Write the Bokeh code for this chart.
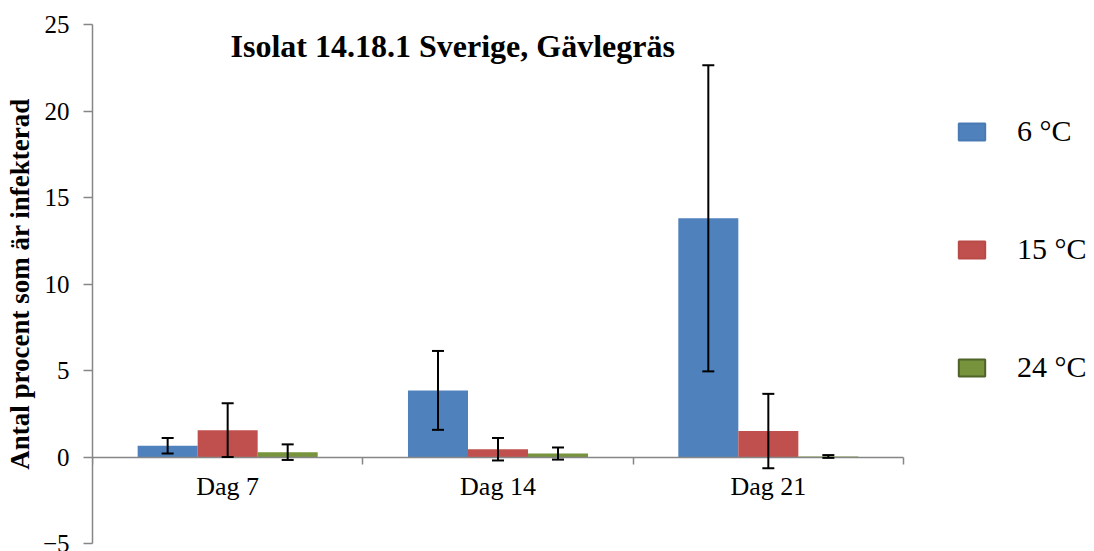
from bokeh.plotting import figure
from bokeh.models import (Range1d, LinearAxis, FixedTicker, Whisker,
                          ColumnDataSource, Legend, LegendItem, Label, TeeHead)
from bokeh.transform import dodge
from bokeh.embed import file_html
from bokeh.resources import INLINE

days = ["Dag 7", "Dag 14", "Dag 21"]
series = ["6 °C", "15 °C", "24 °C"]
v6 = [0.65, 3.85, 13.8]
e6 = [0.45, 2.28, 8.85]
v15 = [1.55, 0.45, 1.5]
e15 = [1.55, 0.65, 2.15]
v24 = [0.28, 0.2, 0.03]
e24 = [0.45, 0.35, 0.08]
colors = ["#4F81BD", "#C0504D", "#77933C"]
borders = ["#4A7AB3", "#B84A47", "#4F6228"]
yticks = [-5, 0, 5, 10, 15, 20, 25]

SERIF = "Liberation Serif"

# layout (pixels)
W, H = 1094, 551
LEFT, TOP, BOTTOM = 92, 24, 8
AXIS_PX = 811                      # visible length of the category axis
FRAME_PX = W - LEFT

n = len(days)
centers = [i + 0.5 for i in range(n)]
edges = list(range(n + 1))

p = figure(x_range=Range1d(0, n * FRAME_PX / AXIS_PX), y_range=Range1d(-5, 25),
           width=W, height=H, output_backend="svg", toolbar_location=None,
           min_border_left=LEFT, min_border_right=0, min_border_top=TOP, min_border_bottom=BOTTOM)
p.xaxis.visible = False
p.xgrid.visible = False
p.ygrid.visible = False
p.outline_line_color = None

# y axis
yax = p.yaxis[0]
yax.ticker = FixedTicker(ticks=yticks)
yax.axis_line_color = "#868686"
yax.axis_line_width = 1.5
yax.major_tick_line_color = "#868686"
yax.major_tick_line_width = 1.5
yax.major_tick_in = 0
yax.major_tick_out = 9
yax.minor_tick_line_color = None
yax.major_label_text_font = SERIF
yax.major_label_text_font_size = "25px"
yax.major_label_text_color = "#000000"
yax.major_label_standoff = 14
yax.axis_label = "Antal procent som är infekterad"
yax.axis_label_text_font = SERIF
yax.axis_label_text_font_style = "bold"
yax.axis_label_text_font_size = "27px"
yax.axis_label_text_color = "#000000"
yax.axis_label_standoff = 5

src = ColumnDataSource(dict(xc=centers, v6=v6, v15=v15, v24=v24,
                            lo6=[a - b for a, b in zip(v6, e6)], hi6=[a + b for a, b in zip(v6, e6)],
                            lo15=[a - b for a, b in zip(v15, e15)], hi15=[a + b for a, b in zip(v15, e15)],
                            lo24=[a - b for a, b in zip(v24, e24)], hi24=[a + b for a, b in zip(v24, e24)]))

w = 0.222
offsets = [-w, 0.0, w]
keys = ["6", "15", "24"]
for k, off, c in zip(keys, offsets, colors):
    p.vbar(x=dodge("xc", off), top="v" + k, bottom=0, width=w,
           source=src, fill_color=c, line_color=None)

# x axis line at y=0 with boundary ticks and centred labels
edge_ax = LinearAxis(ticker=FixedTicker(ticks=edges), bounds=(0, n),
                     major_label_overrides={e: "" for e in edges},
                     fixed_location=0, axis_line_color="#868686", major_tick_line_color="#868686",
                     axis_line_width=1.5, major_tick_line_width=1.5,
                     major_tick_in=0, major_tick_out=7, minor_tick_line_color=None)
p.add_layout(edge_ax, "below")
lab_ax = LinearAxis(ticker=FixedTicker(ticks=centers), bounds=(0, n),
                    major_label_overrides={c: d for c, d in zip(centers, days)},
                    fixed_location=0, axis_line_color=None, major_tick_line_color=None,
                    minor_tick_line_color=None, major_label_text_font=SERIF,
                    major_label_text_font_size="26px", major_label_standoff=9,
                    major_label_text_color="#000000")
p.add_layout(lab_ax, "below")

for k, off in zip(keys, offsets):
    wk = Whisker(base=dodge("xc", off), lower="lo" + k, upper="hi" + k,
                 source=src, line_color="black", line_width=2, level="annotation",
                 upper_head=TeeHead(size=12, line_color="black", line_width=2),
                 lower_head=TeeHead(size=12, line_color="black", line_width=2))
    p.add_layout(wk)

# legend swatches (glyphs with no visible data, used only for the legend)
nan = float("nan")
leg_r = []
for c, b in zip(colors, borders):
    leg_r.append(p.rect(x=[nan], y=[nan], width=1, height=1, fill_color=c, line_color=b, line_width=2))
legend = Legend(items=[LegendItem(label=s, renderers=[r]) for s, r in zip(series, leg_r)],
                location=(863, 159), orientation="vertical",
                glyph_width=33, glyph_height=21, label_standoff=29, spacing=84,
                label_text_font=SERIF, label_text_font_size="30px", label_text_color="#000000",
                padding=0, margin=0, border_line_color=None, background_fill_color=None)
p.add_layout(legend, "center")

title = Label(x=138, y=498, x_units="screen", y_units="screen",
              text="Isolat 14.18.1 Sverige, Gävlegräs", text_font=SERIF, text_color="#000000",
              text_font_style="bold", text_font_size="32px", text_baseline="alphabetic")
p.add_layout(title)

open("out.html", "w").write(file_html(p, INLINE))
